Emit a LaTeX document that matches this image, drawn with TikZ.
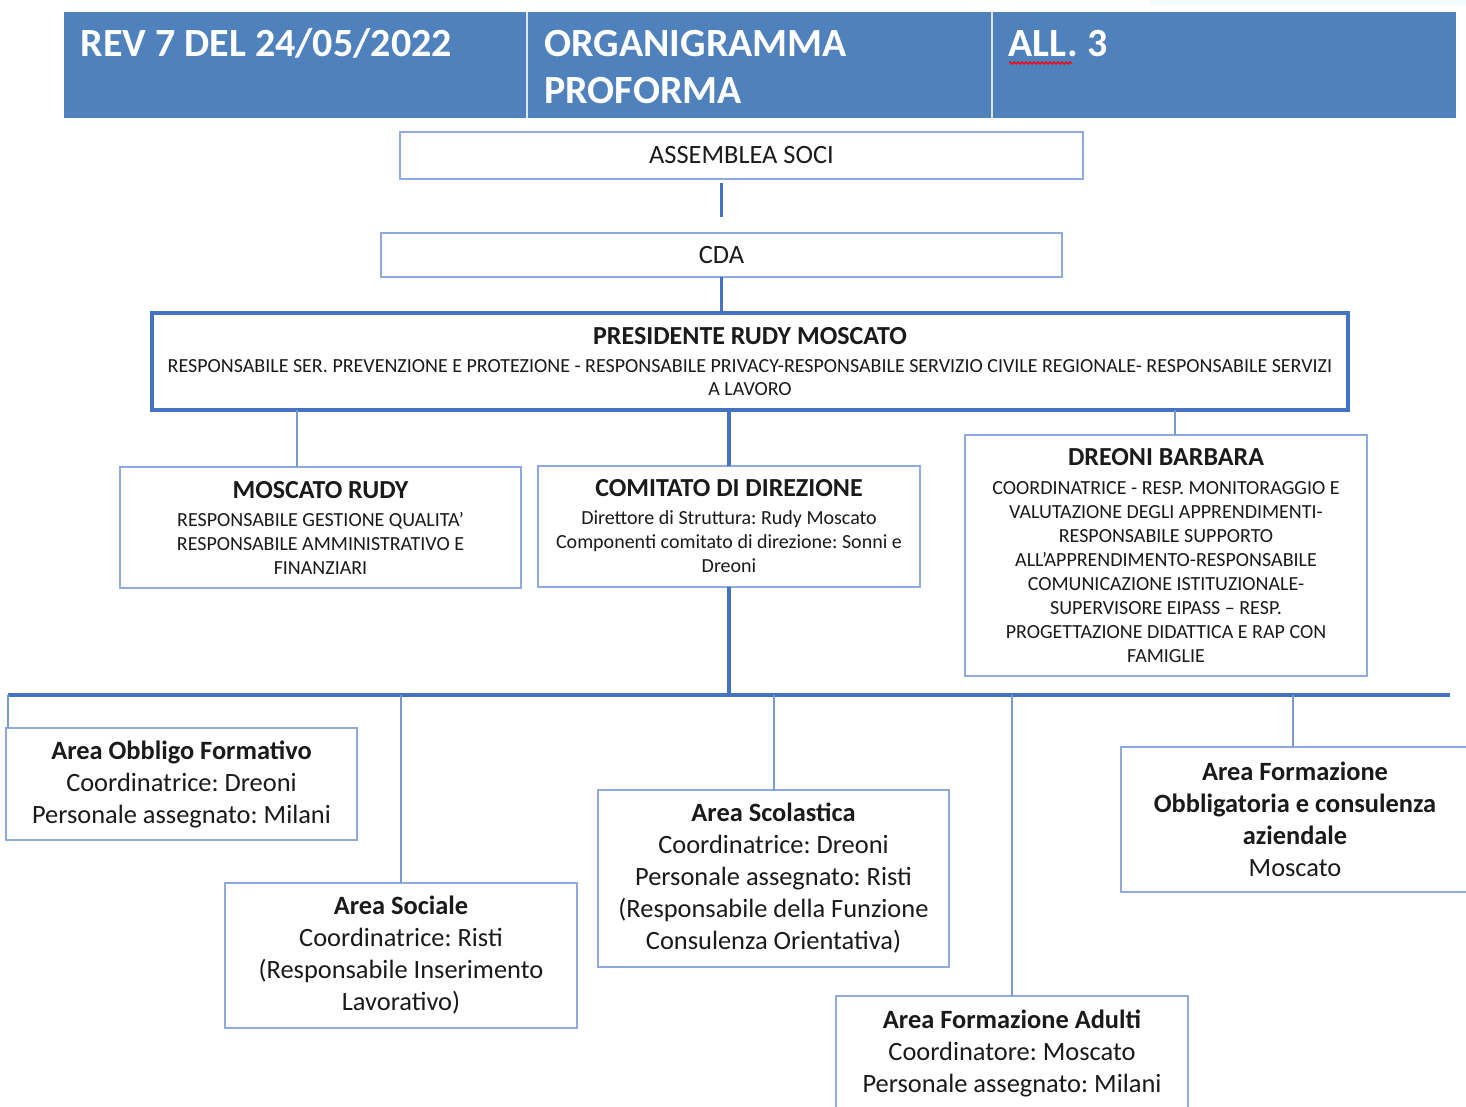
\documentclass[tikz,border=0pt]{standalone}
\usepackage{fontspec}
\setmainfont{Carlito}
\frenchspacing
\usetikzlibrary{calc,decorations.pathmorphing}
\definecolor{hdrblue}{RGB}{79,129,189}
\definecolor{boxblue}{RGB}{143,170,220}
\definecolor{linkblue}{RGB}{68,114,196}
\definecolor{inkgray}{RGB}{26,26,26}
\tikzset{every picture/.style={line width=0.75pt}}
\tikzset{
  boxsize/.style 2 args={minimum width={#1*0.75pt}, minimum height={#2*0.75pt}},
  hdrcell/.style={fill=hdrblue, inner sep=0pt, outer sep=0pt},
  hdrline/.style={draw=white!80!hdrblue, line width=1.5pt},
  hdrtext/.style={text=white, font=\fontsize{30}{35}\selectfont\bfseries, inner sep=0pt, align=left},
  orgbox/.style={draw=boxblue, line width=1.5pt, fill=white, text=inkgray, align=center, inner sep=0pt, outer sep=0pt},
  keybox/.style={orgbox, draw=linkblue, line width=2.6pt},
  bigtext/.style={font=\fontsize{19.8}{24}\selectfont},
  smalltext/.style={font=\fontsize{15}{18}\selectfont},
  link/.style={draw=linkblue, line width=2.6pt},
  sublink/.style={draw=boxblue!70!linkblue, line width=1.5pt},
}
\newcommand{\boxtitle}[1]{{\fontsize{19.5}{21}\selectfont\bfseries #1}}

\begin{document}
\begin{tikzpicture}[x=0.75pt,y=0.75pt,yscale=-1,xscale=1]
\useasboundingbox (0,0) rectangle (1466,1106);
\clip (0,0) rectangle (1466,1106);

\fill[cyan!5] (1150,0) rectangle (1466,5);

%Header cells
\node[hdrcell, boxsize={463}{106}] (hdrrev) at (295.5,65) {};
\node[hdrcell, boxsize={465}{106}] (hdrorg) at (759.5,65) {};
\node[hdrcell, boxsize={464}{106}] (hdrall) at (1224,65) {};
\draw[hdrline] (hdrrev.north east) -- (hdrrev.south east);
\draw[hdrline] (hdrorg.north east) -- (hdrorg.south east);

% Text Node
\node[hdrtext, anchor=base west] (revtxt) at (80,57) {REV 7 DEL 24/05/2022};
% Text Node
\node[hdrtext, anchor=north west] (orgtxt) at (544,30) {ORGANIGRAMMA\\PROFORMA};
% Text Node
\node[hdrtext, anchor=base west] (alltxt) at (1008,57) {ALL. 3};
\draw[red, line width=0.9pt, decorate, decoration={snake, amplitude=0.8pt, segment length=3pt}] ($(alltxt.base west)+(1,6)$) -- ($(alltxt.base west)+(64,6)$);

%Top boxes
\node[orgbox, bigtext, boxsize={683}{47}] (assem) at (741.5,155.5) {ASSEMBLEA SOCI};
\node[orgbox, bigtext, boxsize={681}{44}] (cda) at (721.5,255) {CDA};
\node[keybox, boxsize={1196}{97}, font=\fontsize{15}{17.25}\selectfont] (pres) at (750,361.5)
  {\boxtitle{PRESIDENTE RUDY MOSCATO}\\[3.75pt]
   RESPONSABILE SER. PREVENZIONE E PROTEZIONE - RESPONSABILE PRIVACY-RESPONSABILE SERVIZIO CIVILE REGIONALE- RESPONSABILE SERVIZI\\
   A LAVORO};

%Middle boxes
\node[orgbox, smalltext, boxsize={401}{121}] (mosc) at (320.5,527.5)
  {\boxtitle{MOSCATO RUDY}\\[3pt]
   RESPONSABILE GESTIONE QUALITA’\\ RESPONSABILE AMMINISTRATIVO E\\ FINANZIARI};
\node[orgbox, smalltext, boxsize={382}{121}] (comit) at (729,526.5)
  {\boxtitle{COMITATO DI DIREZIONE}\\[3pt]
   Direttore di Struttura: Rudy Moscato\\ Componenti comitato di direzione: Sonni e\\ Dreoni};
\node[orgbox, smalltext, boxsize={402}{241}] (dreoni) at (1166,555.5)
  {\boxtitle{DREONI BARBARA}\\[3.5pt]
   COORDINATRICE - RESP. MONITORAGGIO E\\ VALUTAZIONE DEGLI APPRENDIMENTI-\\
   RESPONSABILE SUPPORTO\\ ALL’APPRENDIMENTO-RESPONSABILE\\ COMUNICAZIONE ISTITUZIONALE-\\
   SUPERVISORE EIPASS – RESP.\\ PROGETTAZIONE DIDATTICA E RAP CON\\ FAMIGLIE};

%Area boxes
\node[orgbox, bigtext, boxsize={351}{112}] (obbligo) at (181.5,784)
  {\textbf{Area Obbligo Formativo}\\ Coordinatrice: Dreoni\\ Personale assegnato: Milani};
\node[orgbox, bigtext, boxsize={352}{145}] (sociale) at (401,955.5)
  {\textbf{Area Sociale}\\ Coordinatrice: Risti\\ (Responsabile Inserimento\\ Lavorativo)};
\node[orgbox, bigtext, boxsize={351}{177}] (scol) at (773.5,878.5)
  {\textbf{Area Scolastica}\\ Coordinatrice: Dreoni\\ Personale assegnato: Risti\\ (Responsabile della Funzione\\ Consulenza Orientativa)};
\node[orgbox, bigtext, boxsize={352}{114}] (adulti) at (1012,1053)
  {\textbf{Area Formazione Adulti}\\ Coordinatore: Moscato\\ Personale assegnato: Milani};
\node[orgbox, bigtext, boxsize={348}{145}] (formob) at (1295,819.5)
  {\textbf{Area Formazione}\\ \textbf{Obbligatoria e consulenza}\\ \textbf{aziendale}\\ Moscato};

%Straight Lines
\draw[link] ($(cda.north)+(0,-16)$) -- ($(cda.north |- assem.south)+(0,4)$);
\draw[link] (cda.south) -- (cda.south |- pres.north);
\draw[sublink] ($(mosc.north)+(-23.5,0)$) -- ($(mosc.north |- pres.south)+(-23.5,0)$);
\draw[link] (comit.north) -- (comit.north |- pres.south);
\draw[sublink] ($(dreoni.north)+(9,0)$) -- ($(dreoni.north |- pres.south)+(9,0)$);

\coordinate (busL) at (8,695);
\coordinate (busR) at (1450,695);
\draw[link] (comit.south) -- (comit.south |- busL);
\draw[link] (busL) -- (busR);

\draw[sublink] (busL) -- (busL |- obbligo.north);
\draw[sublink] (sociale.north) -- (sociale.north |- busL);
\draw[sublink] (scol.north) -- (scol.north |- busL);
\draw[sublink] (adulti.north) -- (adulti.north |- busL);
\draw[sublink] ($(formob.north)+(-2,0)$) -- ($(formob.north |- busL)+(-2,0)$);

\end{tikzpicture}
\end{document}
